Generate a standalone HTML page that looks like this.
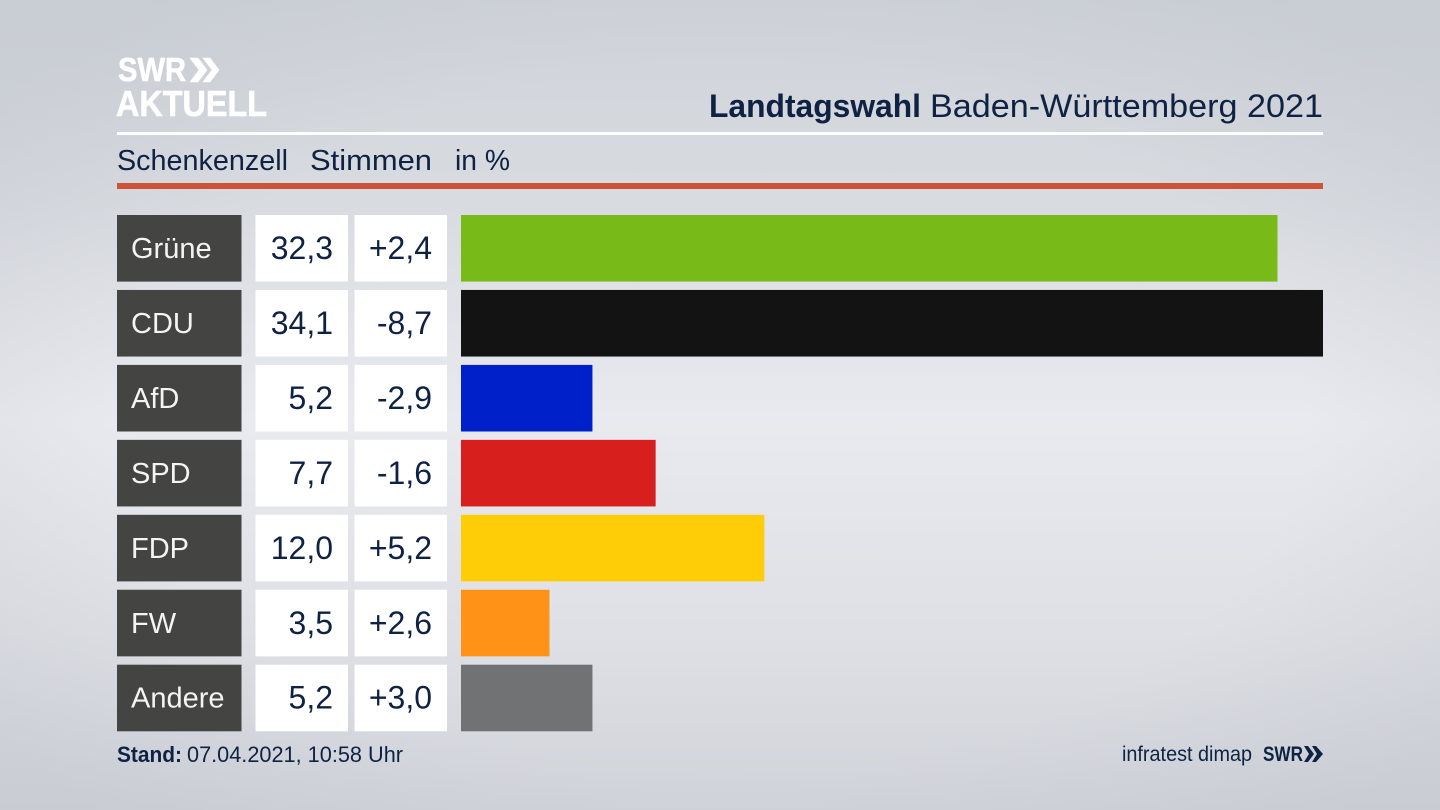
<!DOCTYPE html>
<html lang="de">
<head>
<meta charset="utf-8">
<title>Landtagswahl Baden-Württemberg 2021 – Schenkenzell</title>
<style>
html,body{margin:0;padding:0;width:1440px;height:810px;overflow:hidden;background:#d8dbe0}
svg{display:block;font-family:"Liberation Sans",sans-serif}
</style>
</head>
<body>
<svg id="chart" xmlns="http://www.w3.org/2000/svg" width="1440" height="810" viewBox="0 0 1440 810">
  <defs>
    <linearGradient id="bgv" x1="0" y1="0" x2="0" y2="1">
      <stop offset="0" stop-color="#cfd3d9"/>
      <stop offset=".25" stop-color="#d8dbe0"/>
      <stop offset=".52" stop-color="#e9eaef"/>
      <stop offset=".78" stop-color="#dee0e5"/>
      <stop offset="1" stop-color="#d0d3d9"/>
    </linearGradient>
    <radialGradient id="bgc" gradientUnits="userSpaceOnUse" cx="720" cy="420" r="900" gradientTransform="translate(0 168) scale(1 .6)">
      <stop offset=".65" stop-color="#b9bec6" stop-opacity="0"/>
      <stop offset="1" stop-color="#b9bec6" stop-opacity=".3"/>
    </radialGradient>
  </defs>
  <rect width="1440" height="810" fill="url(#bgv)"/>
  <rect width="1440" height="810" fill="url(#bgc)"/>

  <g fill="#fff" stroke="#fff" stroke-width=".6">
    <text x="118" y="81" font-size="33" font-weight="700" textLength="68" lengthAdjust="spacingAndGlyphs">SWR</text>
    <polygon points="190,58 198,58 207,70 198,82 190,82 199,70"/>
    <polygon points="203,58 210,58 219,70 210,82 203,82 212,70"/>
    <text x="116" y="116" font-size="36" font-weight="700" textLength="151" lengthAdjust="spacingAndGlyphs">AKTUELL</text>
  </g>

  <text x="709" y="117" font-size="32" font-weight="700" fill="#0f2244" textLength="212" lengthAdjust="spacingAndGlyphs">Landtagswahl</text>
  <text x="930" y="117" font-size="32" fill="#0f2244" textLength="393" lengthAdjust="spacingAndGlyphs">Baden-Württemberg 2021</text>
  <rect x="117" y="132" width="1206" height="3" fill="#fff"/>

  <text x="117" y="170" font-size="29" fill="#0f2244" textLength="171" lengthAdjust="spacingAndGlyphs">Schenkenzell</text>
  <text x="310" y="170" font-size="29" fill="#0f2244" textLength="122" lengthAdjust="spacingAndGlyphs">Stimmen</text>
  <text x="455" y="170" font-size="29" fill="#0f2244" textLength="55" lengthAdjust="spacingAndGlyphs">in %</text>
  <rect x="117" y="183" width="1206" height="6" fill="#cc5238"/>

  <g id="rows"></g>

  <text x="117" y="762" font-size="22" font-weight="700" fill="#0f2244" textLength="65" lengthAdjust="spacingAndGlyphs">Stand:</text>
  <text x="187" y="762" font-size="22" fill="#0f2244" textLength="216" lengthAdjust="spacingAndGlyphs">07.04.2021, 10:58 Uhr</text>
  <text x="1122" y="761" font-size="21" fill="#0f2244" textLength="130" lengthAdjust="spacingAndGlyphs">infratest dimap</text>
  <g fill="#0f2244">
    <text x="1263" y="761" font-size="21" font-weight="700" textLength="40" lengthAdjust="spacingAndGlyphs">SWR</text>
    <polygon points="1304,746 1308,746 1314,754 1308,762 1304,762 1309,754"/>
    <polygon points="1312,746 1316,746 1323,754 1316,762 1312,762 1317,754"/>
  </g>
</svg>
<script>
const parties = ["Grüne", "CDU", "AfD", "SPD", "FDP", "FW", "Andere"];
const shares = [32.3, 34.1, 5.2, 7.7, 12.0, 3.5, 5.2];
const changes = [2.4, -8.7, -2.9, -1.6, 5.2, 2.6, 3.0];
const partyColors = ["#78bb19", "#131313", "#0021c9", "#d71f1d", "#ffcc08", "#ff9217", "#717274"];

const svgNS = "http://www.w3.org/2000/svg";
const rowsGroup = document.getElementById("rows");
const maxShare = Math.max.apply(null, shares);

function xScale(value) {
  return value / maxShare * 862;
}
function rowTop(index) {
  return 215 + index * 74.95;
}
function formatShare(value) {
  return value.toFixed(1).replace(".", ",");
}
function formatChange(value) {
  return (value > 0 ? "+" : "") + value.toFixed(1).replace(".", ",");
}
function make(tag, attrs, parent) {
  const el = document.createElementNS(svgNS, tag);
  Object.keys(attrs).forEach(function (key) { el.setAttribute(key, attrs[key]); });
  parent.appendChild(el);
  return el;
}

parties.forEach(function (party, i) {
  const y = rowTop(i);
  const h = 66.6;
  const mid = y + 44;
  const slug = party.toLowerCase().replace("ü", "ue");

  const row = make("g", {}, rowsGroup);
  
  

  const nameBox = make("rect", { x: 117, y: y, width: 124.5, height: h, fill: "#444442" }, row);
  
  

  const nameText = make("text", { x: 131, y: mid - 1, "font-size": 29, fill: "#f4f4f2" }, row);
  
  
  nameText.textContent = party;

  const shareBox = make("rect", { x: 255.5, y: y, width: 92.5, height: h, fill: "#fff" }, row);
  
  

  const shareText = make("text", { x: 333, y: mid, "font-size": 32, "text-anchor": "end", fill: "#0f2244" }, row);
  
  
  shareText.textContent = formatShare(shares[i]);

  const changeBox = make("rect", { x: 354.5, y: y, width: 92.5, height: h, fill: "#fff" }, row);
  
  

  const changeText = make("text", { x: 432, y: mid, "font-size": 32, "text-anchor": "end", fill: "#0f2244" }, row);
  
  
  changeText.textContent = formatChange(changes[i]);

  const bar = make("rect", { x: 461, y: y, width: xScale(shares[i]), height: h, fill: partyColors[i] }, row);
  
  
});
</script>
</body>
</html>
